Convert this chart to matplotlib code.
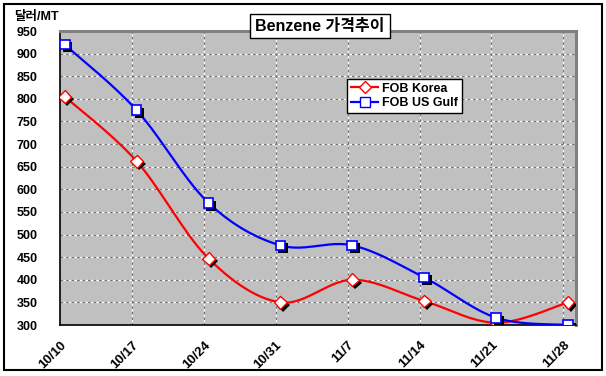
import numpy as np
import matplotlib
matplotlib.use("Agg")
import matplotlib.pyplot as plt
import matplotlib.patheffects as pe
from matplotlib.patches import Rectangle

plt.rcParams['font.family'] = ['Liberation Sans', 'Noto Sans CJK KR']
plt.rcParams['font.weight'] = 'bold'

# data
dates = ["10/10", "10/17", "10/24", "10/31", "11/7", "11/14", "11/21", "11/28"]
fob_korea = [805, 662, 447, 350, 400, 353, 305, 350]
fob_us_gulf = [920, 775, 570, 476, 476, 405, 316, 300]
y_ticks = list(range(300, 951, 50))


def smooth(xs, ys, n=30):
    # Excel style smoothed line (Catmull-Rom as cubic bezier)
    p = np.column_stack([xs, ys]).astype(float)
    p = np.vstack([p[0], p, p[-1]])
    out = []
    t = np.linspace(0, 1, n)[:, None]
    for i in range(1, len(p) - 2):
        p0, p1, p2, p3 = p[i - 1], p[i], p[i + 1], p[i + 2]
        c1 = p1 + (p2 - p0) / 6
        c2 = p2 - (p3 - p1) / 6
        seg = (1 - t) ** 3 * p1 + 3 * (1 - t) ** 2 * t * c1 + 3 * (1 - t) * t ** 2 * c2 + t ** 3 * p2
        out.append(seg if i == 1 else seg[1:])
    out = np.vstack(out)
    return out[:, 0], out[:, 1]


fig = plt.figure(figsize=(6.06, 3.76), dpi=100)
ax = fig.add_axes([60 / 606, 1 - 325 / 376, 516 / 606, 294 / 376])
ax.set_facecolor('#C0C0C0')

x = np.arange(len(dates))
tick_pos = x - 0.065
ax.set_xlim(-0.065, 7.11)
ax.set_ylim(300, 950)

# grid: white under dark gray dashes
for yv in y_ticks[1:-1]:
    ax.axhline(yv, color='white', lw=0.9, zorder=1)
    ax.axhline(yv, color='#777777', lw=0.9, dashes=(2.2, 2.2), zorder=1.1)
for xv in tick_pos[1:]:
    ax.axvline(xv, color='white', lw=0.9, zorder=1)
    ax.axvline(xv, color='#777777', lw=0.9, dashes=(2.2, 2.2), zorder=1.1)

shadow = [pe.SimplePatchShadow(offset=(2, -2), shadow_rgbFace='black', alpha=1.0), pe.Normal()]

sx, sy = smooth(x, fob_korea)
ax.plot(sx, sy, color='#FF0000', lw=1.6, zorder=3)
ax.plot(x, fob_korea, ls='none', marker='D', ms=6.5, mfc='white', mec='#FF0000', mew=1.0,
        zorder=4, path_effects=shadow)

sx, sy = smooth(x, fob_us_gulf)
ax.plot(sx, sy, color='#0000FF', lw=1.6, zorder=3)
ax.plot(x, fob_us_gulf, ls='none', marker='s', ms=7, mfc='white', mec='#0000FF', mew=1.2,
        zorder=4, path_effects=shadow)

# legend handles
h1, = ax.plot([], [], color='#FF0000', lw=1.6, marker='D', ms=6, mfc='white', mec='#FF0000')
h2, = ax.plot([], [], color='#0000FF', lw=1.6, marker='s', ms=6.5, mfc='white', mec='#0000FF')
leg = fig.legend([h1, h2], ["FOB Korea", "FOB US Gulf"], loc='upper left',
                 bbox_to_anchor=(347 / 606, 1 - 79 / 376), frameon=True, fancybox=False,
                 edgecolor='black', framealpha=1, fontsize=9, borderaxespad=0,
                 handlelength=2.2, handletextpad=0.3, borderpad=0.3, labelspacing=0.2)
leg.get_frame().set_linewidth(1.0)

ax.set_yticks(y_ticks)
ax.set_xticks(tick_pos)
ax.set_xticklabels(dates, rotation=45, ha='right', rotation_mode='anchor')
ax.tick_params(axis='y', length=0, pad=16, labelsize=9)
ax.tick_params(axis='x', length=0, pad=10, labelsize=9.5)

for s in ['left', 'bottom']:
    ax.spines[s].set_color('black')
    ax.spines[s].set_linewidth(1.2)
for s in ['top', 'right']:
    ax.spines[s].set_color('#808080')
    ax.spines[s].set_linewidth(2.2)

fig.text(14 / 606, 1 - 17 / 376, "달러/MT", fontsize=9, fontweight='bold', va='center', ha='left')
fig.text(320 / 606, 1 - 26 / 376, "Benzene 가격추이", fontsize=11.5, fontweight='bold',
         ha='center', va='center',
         bbox=dict(boxstyle='square,pad=0.3', facecolor='white', edgecolor='black', lw=1.0))

fig.patches.append(Rectangle((4 / 606, 1 - 370 / 376), 598 / 606, 366 / 376, transform=fig.transFigure,
                             fill=False, edgecolor='black', lw=1.5))

fig.savefig("out.png", dpi=100)
